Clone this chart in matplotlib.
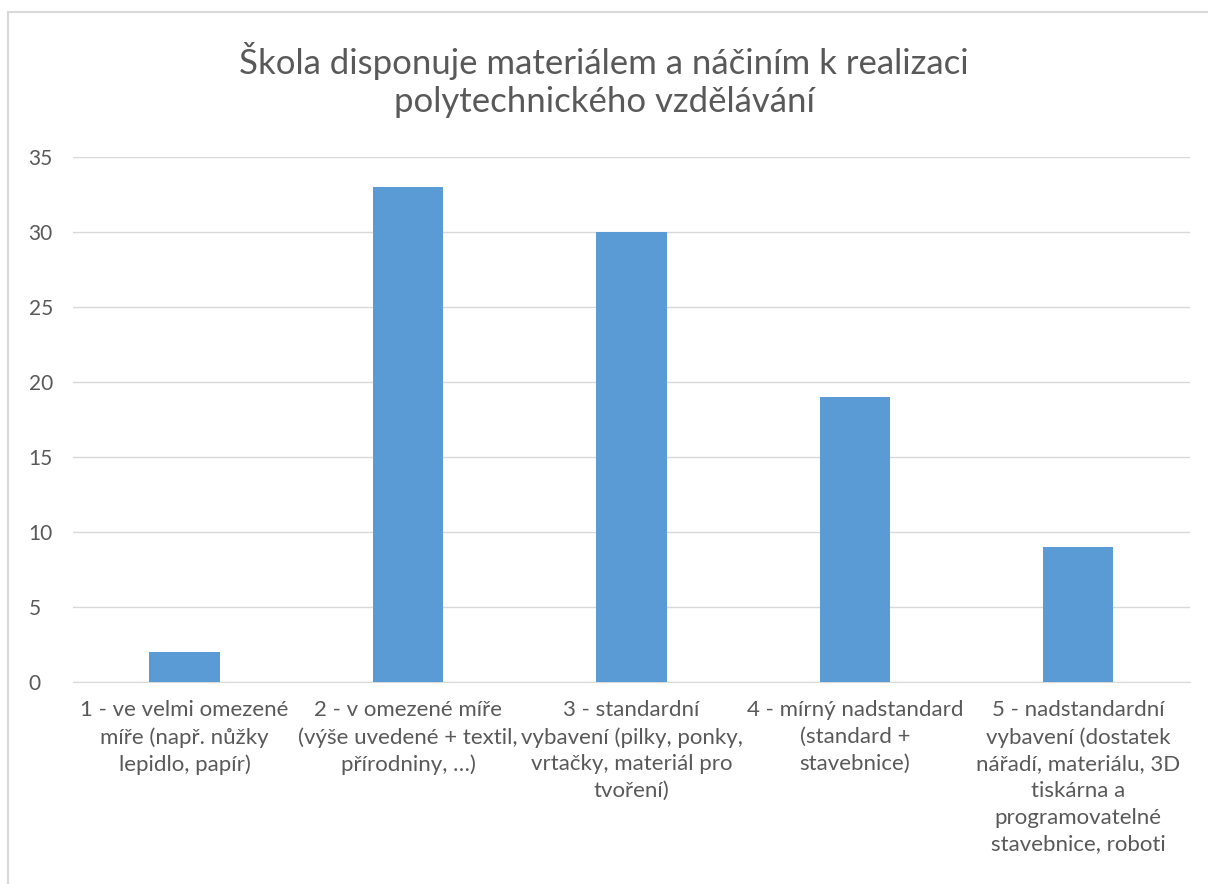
import matplotlib.pyplot as plt
from matplotlib.patches import Rectangle

# data
categories = [
    '1 - ve velmi omezené\nmíře (např. nůžky\nlepidlo, papír)',
    '2 - v omezené míře\n(výše uvedené + textil,\npřírodniny, …)',
    '3 - standardní\nvybavení (pilky, ponky,\nvrtačky, materiál pro\ntvoření)',
    '4 - mírný nadstandard\n(standard +\nstavebnice)',
    '5 - nadstandardní\nvybavení (dostatek\nnářadí, materiálu, 3D\ntiskárna a\nprogramovatelné\nstavebnice, roboti',
]
values = [2, 33, 30, 19, 9]
yticks = [0, 5, 10, 15, 20, 25, 30, 35]
title = 'Škola disponuje materiálem a náčiním k realizaci\npolytechnického vzdělávání'

plt.rcParams['font.family'] = ['Lato', 'DejaVu Sans']
text_col = '#595959'

fig = plt.figure(figsize=(12.08, 8.84), dpi=100)
ax = fig.add_axes([0.0604, 0.2285, 0.9247, 0.5939])

ax.bar(range(len(values)), values, width=0.315, color='#5b9bd5', zorder=3)
ax.set_xlim(-0.5, len(values) - 0.5)
ax.set_ylim(0, 35)
ax.set_yticks(yticks)
ax.set_xticks(range(len(values)))
ax.set_xticklabels(categories, fontsize=16, color=text_col, linespacing=1.42, va='top')
ax.tick_params(axis='y', labelsize=15, labelcolor=text_col, length=0, pad=32)
ax.tick_params(axis='x', length=0, pad=13)
ax.grid(axis='y', color='#d9d9d9', linewidth=1, zorder=0)
for s in ['top', 'right', 'left']:
    ax.spines[s].set_visible(False)
ax.spines['bottom'].set_color('#d9d9d9')
for lbl in ax.get_yticklabels():
    lbl.set_horizontalalignment('left')

fig.text(0.5, 0.952, title, ha='center', va='top', fontsize=25, color=text_col, linespacing=1.2)

# chart border
fig.patches.append(Rectangle((8 / 1208, -0.1), 1.1, 1.1 - 12 / 884, transform=fig.transFigure,
                             fill=False, edgecolor='#d9d9d9', linewidth=1.5))

plt.savefig('out.png', dpi=100)
